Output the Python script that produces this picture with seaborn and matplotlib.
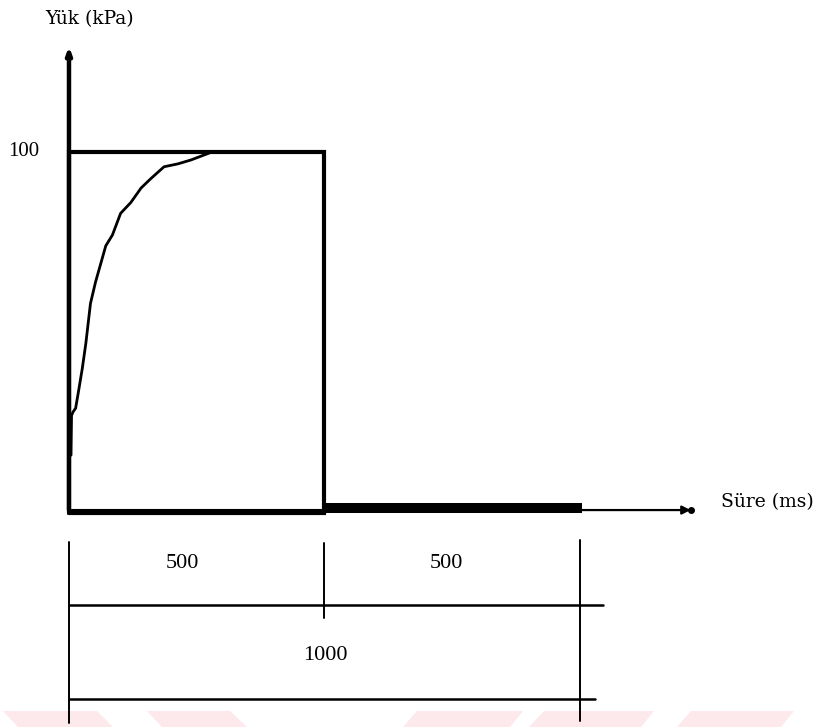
import numpy as np
import pandas as pd
import seaborn as sns
import matplotlib.pyplot as plt
from matplotlib.patches import Polygon

# Load pulse: 500 ms loading at 100 kPa followed by a 500 ms rest period
peak_load_kpa = 100
load_duration_ms = 500
rest_duration_ms = 500
seating_load_kpa = 2.8

# Measured rise of the applied load during the loading phase
rise_time_ms = [4, 5, 8, 13, 19, 26, 33, 42, 52, 62, 72, 85, 101, 121, 141, 160, 186, 213, 239, 265, 280]
rise_load_kpa = [16, 27, 28, 29, 34, 40, 47, 58, 64, 69, 74, 77, 83, 86, 90, 92.6, 95.9, 96.7, 97.8, 99.2, 100]

segment_labels = ["500", "500"]
total_label = "1000"

sns.set_style("white")
plt.rcParams["font.family"] = ["DejaVu Serif"]
plt.rcParams["text.color"] = "black"

fig = plt.figure(figsize=(8.14, 7.27), dpi=100)

# faint background band along the bottom edge
bg = fig.add_axes([0, 0, 1, 1], zorder=0)
bg.set_xlim(0, 814)
bg.set_ylim(727, 0)
bg.axis("off")
bands = [
    [(3, 711), (97, 711), (113, 727), (18, 727)],
    [(147, 711), (230, 711), (247, 727), (162, 727)],
    [(417, 711), (523, 711), (510, 727), (403, 727)],
    [(544, 711), (654, 711), (641, 727), (529, 727)],
    [(691, 711), (794, 711), (781, 727), (677, 727)],
]
for b in bands:
    bg.add_patch(Polygon(b, closed=True, facecolor="#fde8ec", edgecolor="none"))

ax = fig.add_axes([0, 0, 1, 1], zorder=1)
ax.patch.set_alpha(0)
ax.set_xlim(-135.0, 1457.9)
ax.set_ylim(-59.3, 142.1)
ax.axis("off")

end_ms = load_duration_ms + rest_duration_ms

# rectangular load pulse
pulse = pd.DataFrame({
    "t": [0, 0, load_duration_ms, load_duration_ms, 0],
    "p": [0, peak_load_kpa, peak_load_kpa, 0, 0],
})
sns.lineplot(data=pulse, x="t", y="p", sort=False, estimator=None, color="black",
             linewidth=3.0, ax=ax, solid_joinstyle="miter")

# rise curve
rise = pd.DataFrame({"t": rise_time_ms, "p": rise_load_kpa})
sns.lineplot(data=rise, x="t", y="p", sort=False, estimator=None, color="black",
             linewidth=2.0, ax=ax)

# dashed reference at peak load
ax.plot([6, 275], [peak_load_kpa, peak_load_kpa], color="black", linewidth=1.6,
        linestyle=(0, (4, 3)))

# rest period seating load
ax.fill_between([load_duration_ms, end_ms + 3], 0, seating_load_kpa, color="black", linewidth=0)

# axes with arrows
ax.annotate("", xy=(0, 130), xytext=(0, 0),
            arrowprops=dict(arrowstyle="-|>,head_length=0.4,head_width=0.15",
                            color="black", lw=3.2, mutation_scale=10))
ax.annotate("", xy=(1222, 0.8), xytext=(0, 0.8),
            arrowprops=dict(arrowstyle="-|>,head_length=0.5,head_width=0.25",
                            color="black", lw=1.6, mutation_scale=10))
ax.plot([1218], [0.8], marker="o", markersize=4, color="black")

# axis titles and tick value
ax.text(41, 136.8, "Yük (kPa)", ha="center", va="center", fontsize=13.5)
ax.text(1366, 3.0, "Süre (ms)", ha="center", va="center", fontsize=13.5)
ax.text(-88, peak_load_kpa, str(peak_load_kpa), ha="center", va="center",
        fontsize=15, family=["Liberation Serif"])

# dimension lines below the time axis
dim_kw = dict(color="black", linewidth=1.4)
ax.plot([0, 0], [-8, -58.2], **dim_kw)
ax.plot([load_duration_ms, load_duration_ms], [-8.3, -29], **dim_kw)
ax.plot([end_ms, end_ms], [-7.5, -57.5], **dim_kw)
ax.plot([0, 1045], [-25.5, -25.5], color="black", linewidth=1.8)
ax.plot([0, 1029], [-51.5, -51.5], color="black", linewidth=1.8)

ax.text(221, -13.9, segment_labels[0], ha="center", va="center", fontsize=16,
        family=["Liberation Serif"])
ax.text(738, -13.9, segment_labels[1], ha="center", va="center", fontsize=16,
        family=["Liberation Serif"])
ax.text(501, -39.6, total_label, ha="center", va="center", fontsize=16,
        family=["Liberation Serif"])

fig.savefig("out.png", dpi=100)
